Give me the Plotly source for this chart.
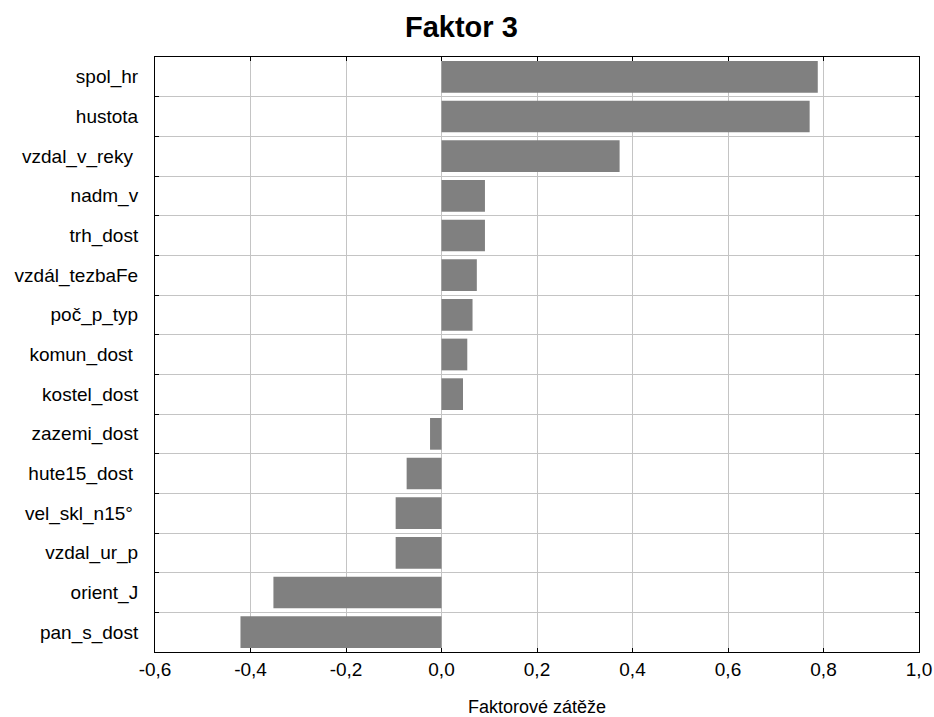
import plotly.graph_objects as go

variables = ["spol_hr", "hustota", "vzdal_v_reky ", "nadm_v", "trh_dost", "vzdál_tezbaFe",
             "poč_p_typ", "komun_dost ", "kostel_dost", "zazemi_dost", "hute15_dost ",
             "vel_skl_n15° ", "vzdal_ur_p", "orient_J", "pan_s_dost"]
loadings = [0.788, 0.771, 0.373, 0.091, 0.091, 0.074, 0.065, 0.054, 0.045,
            -0.024, -0.073, -0.096, -0.096, -0.352, -0.421]
x_tickvals = [-0.6, -0.4, -0.2, 0.0, 0.2, 0.4, 0.6, 0.8, 1.0]
x_ticktext = ["-0,6", "-0,4", "-0,2", "0,0", "0,2", "0,4", "0,6", "0,8", "1,0"]

font_family = "Liberation Sans, Arial, sans-serif"

fig = go.Figure(go.Bar(
    x=loadings, y=variables, orientation="h",
    marker=dict(color="#808080", line=dict(width=0)),
    width=0.8,
))

fig.update_layout(
    width=934, height=717,
    margin=dict(l=154.5, r=15, t=56.5, b=65, autoexpand=False),
    paper_bgcolor="white", plot_bgcolor="white",
    font=dict(family=font_family, color="black", size=18),
    title=dict(text="<b>Faktor 3</b>", x=0.494, xanchor="center", y=0.962, yanchor="middle",
               font=dict(size=29, family=font_family, color="black")),
    showlegend=False,
    bargap=0.2,
)

fig.update_xaxes(
    range=[-0.6, 1.0], tickvals=x_tickvals, ticktext=x_ticktext,
    showgrid=True, gridcolor="#c4c4c4", gridwidth=1,
    zeroline=False, automargin=False,
    showline=True, linecolor="black", linewidth=1, mirror="ticks",
    ticks="inside", ticklen=4, tickcolor="black",
    tickfont=dict(size=19),
    title=dict(text="Faktorové zátěže", font=dict(size=18), standoff=23),
)

fig.update_yaxes(
    type="category", autorange="reversed",
    tickson="boundaries", automargin=False,
    showgrid=True, gridcolor="#c4c4c4", gridwidth=1,
    showline=True, linecolor="black", linewidth=1, mirror="ticks",
    ticks="inside", ticklen=4, tickcolor="black",
    tickfont=dict(size=19),
    ticklabelstandoff=12,
)

fig.write_html(
    "out.html",
    config={"displayModeBar": False},
    post_script="document.body.style.margin='0';document.body.style.padding='0';document.body.style.overflow='hidden';",
)
